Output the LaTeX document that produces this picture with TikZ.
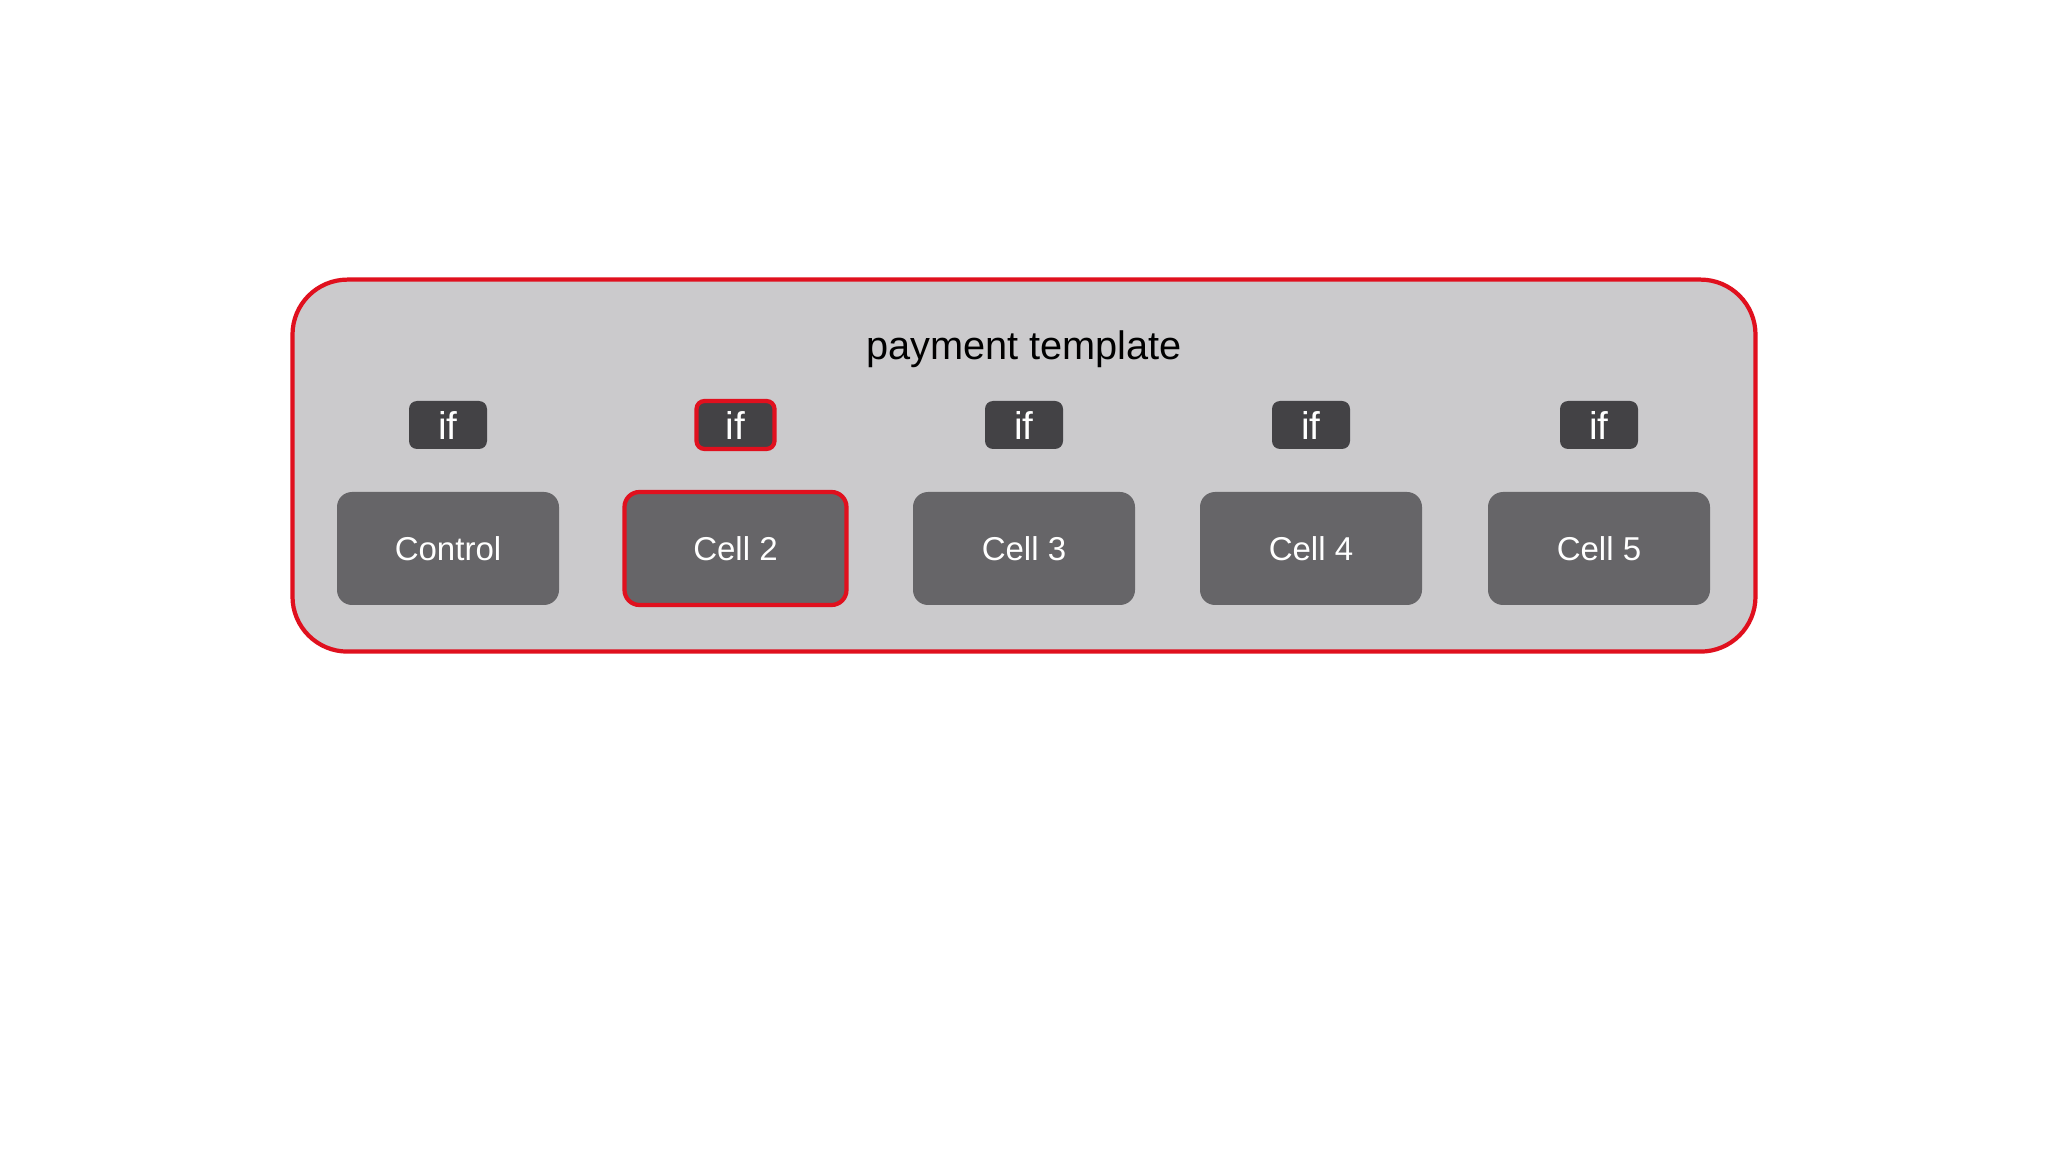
\documentclass[tikz,border=0pt]{standalone}
\usepackage{fontspec}
\setmainfont{Liberation Sans}
\definecolor{tmplgray}{HTML}{CBCACC}
\definecolor{cellgray}{HTML}{666568}
\definecolor{ifgray}{HTML}{434245}
\definecolor{markred}{HTML}{E0101E}
\begin{document}
\begin{tikzpicture}[
  tmplbox/.style={draw=markred,line width=1.2pt,fill=tmplgray,rounded corners=0.55cm,
    minimum width=14.63cm,minimum height=3.72cm,inner sep=0pt},
  cellbox/.style={fill=cellgray,rounded corners=0.15cm,minimum width=2.22cm,
    minimum height=1.13cm,inner sep=0pt,text=white,font=\fontsize{9.4pt}{11pt}\selectfont},
  ifbox/.style={fill=ifgray,rounded corners=0.08cm,minimum width=0.78cm,
    minimum height=0.48cm,inner sep=0pt,text=white,font=\fontsize{11pt}{12pt}\selectfont},
  picked/.style={draw=markred,line width=1.2pt}]
  \useasboundingbox[fill=white] (0,0) rectangle (20.48,-11.52);
  \node[tmplbox] (tmpl) at (10.24,-4.656) {};
  \node[font=\fontsize{11.3pt}{13pt}\selectfont] (title) at (10.24,-3.49) {payment template};
  % selectors
  \node[ifbox] (if1) at (4.48,-4.25) {if};
  \node[ifbox,picked] (if2) at (7.355,-4.25) {if};
  \node[ifbox] (if3) at (10.24,-4.25) {if};
  \node[ifbox] (if4) at (13.11,-4.25) {if};
  \node[ifbox] (if5) at (15.99,-4.25) {if};
  % cells
  \node[cellbox] (ctrl) at (4.48,-5.485) {Control};
  \node[cellbox,picked] (cell2) at (7.355,-5.485) {Cell 2};
  \node[cellbox] (cell3) at (10.24,-5.485) {Cell 3};
  \node[cellbox] (cell4) at (13.11,-5.485) {Cell 4};
  \node[cellbox] (cell5) at (15.99,-5.485) {Cell 5};
\end{tikzpicture}
\end{document}
